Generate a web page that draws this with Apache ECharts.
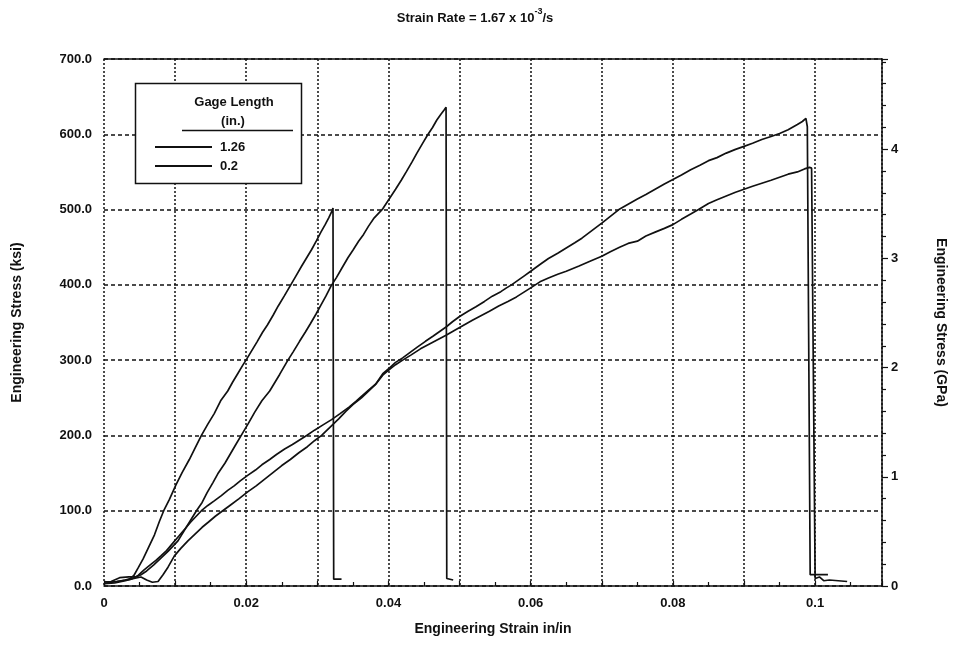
<!DOCTYPE html>
<html>
<head>
<meta charset="utf-8">
<script src="https://cdn.jsdelivr.net/npm/echarts@6/dist/echarts.min.js"></script>
<style>
  html, body { margin: 0; padding: 0; background: #fff; }
  #chart { width: 958px; height: 646px; }
</style>
</head>
<body>
<div id="chart"></div>
<script>
// Tensile tests at a strain rate of 1.67e-3 /s, two extensometer gage lengths.

// 0.2 in. gage, specimen 1
const strainA = [0, 0.0008, 0.0018, 0.0030, 0.0037, 0.0042, 0.0048, 0.0055, 0.0063, 0.0071, 0.0078, 0.0084, 0.0092, 0.0101, 0.0110, 0.0120, 0.0128, 0.0137, 0.0146, 0.0155, 0.0164, 0.0174, 0.0181, 0.0188, 0.0195, 0.0201, 0.0208, 0.0215, 0.0223, 0.0230, 0.0238, 0.0245, 0.0254, 0.0262, 0.0270, 0.0278, 0.0285, 0.0292, 0.0299, 0.0305, 0.0311, 0.0316, 0.0321, 0.0322, 0.0323, 0.0334];
const stressA = [3, 5, 6, 8, 10, 14, 24, 36, 52, 68, 86, 100, 115, 134, 151, 168, 183, 200, 215, 229, 246, 259, 271, 282, 293, 302, 313, 324, 337, 347, 360, 372, 386, 399, 412, 425, 436, 447, 459, 470, 480, 489, 499, 502, 9, 9];

// 0.2 in. gage, specimen 2
const strainB = [0, 0.0010, 0.0022, 0.0035, 0.0045, 0.0052, 0.0060, 0.0070, 0.0080, 0.0090, 0.0104, 0.0117, 0.0130, 0.0138, 0.0145, 0.0153, 0.0160, 0.0170, 0.0178, 0.0186, 0.0193, 0.0203, 0.0212, 0.0222, 0.0233, 0.0240, 0.0247, 0.0258, 0.0266, 0.0275, 0.0283, 0.0290, 0.0298, 0.0305, 0.0312, 0.0319, 0.0327, 0.0335, 0.0343, 0.0350, 0.0358, 0.0365, 0.0372, 0.0380, 0.0386, 0.0392, 0.0401, 0.0410, 0.0418, 0.0425, 0.0433, 0.0440, 0.0448, 0.0455, 0.0462, 0.0468, 0.0474, 0.0478, 0.0481, 0.0482, 0.0491];
const stressB = [5, 6, 11, 12, 12, 15, 20, 28, 37, 46, 60, 80, 100, 111, 124, 137, 149, 163, 176, 189, 200, 216, 231, 246, 259, 270, 281, 299, 311, 325, 337, 348, 361, 373, 385, 398, 410, 423, 436, 446, 458, 467, 478, 489, 495, 501, 514, 527, 539, 550, 563, 575, 588, 599, 609, 619, 627, 632, 636, 10, 8];

// 1.26 in. gage, specimen 1
const strainC = [0, 0.0012, 0.0025, 0.0038, 0.0048, 0.0056, 0.0065, 0.0073, 0.0080, 0.0088, 0.0095, 0.0105, 0.0114, 0.0122, 0.0130, 0.0137, 0.0146, 0.0155, 0.0165, 0.0174, 0.0183, 0.0192, 0.0202, 0.0213, 0.0222, 0.0233, 0.0243, 0.0254, 0.0265, 0.0275, 0.0285, 0.0296, 0.0308, 0.0320, 0.0332, 0.0345, 0.0355, 0.0362, 0.0372, 0.0382, 0.0392, 0.0402, 0.0410, 0.0420, 0.0430, 0.0440, 0.0452, 0.0463, 0.0472, 0.0481, 0.0490, 0.0500, 0.0512, 0.0523, 0.0535, 0.0546, 0.0558, 0.0566, 0.0573, 0.0582, 0.0591, 0.0600, 0.0613, 0.0625, 0.0638, 0.0650, 0.0662, 0.0672, 0.0686, 0.0700, 0.0712, 0.0724, 0.0737, 0.0750, 0.0762, 0.0775, 0.0788, 0.0800, 0.0812, 0.0825, 0.0838, 0.0850, 0.0862, 0.0875, 0.0888, 0.0900, 0.0912, 0.0925, 0.0938, 0.0950, 0.0962, 0.0975, 0.0982, 0.0987, 0.0989, 0.0993, 0.1018];
const stressC = [6, 5, 7, 9, 14, 21, 28, 34, 40, 47, 55, 66, 76, 85, 93, 100, 107, 113, 120, 127, 133, 140, 147, 154, 161, 168, 175, 182, 188, 194, 200, 207, 214, 221, 229, 238, 246, 252, 260, 268, 282, 290, 297, 303, 310, 317, 325, 332, 338, 344, 351, 358, 365, 371, 378, 385, 391, 396, 400, 406, 412, 418, 427, 435, 442, 449, 456, 462, 472, 482, 491, 500, 507, 514, 520, 527, 534, 540, 546, 553, 559, 565, 569, 575, 580, 584, 588, 593, 597, 601, 606, 613, 617, 621, 610, 15, 15];

// 1.26 in. gage, specimen 2
const strainD = [0, 0.0015, 0.0030, 0.0042, 0.0052, 0.0060, 0.0068, 0.0076, 0.0083, 0.0090, 0.0099, 0.0108, 0.0118, 0.0128, 0.0138, 0.0147, 0.0157, 0.0167, 0.0177, 0.0190, 0.0202, 0.0214, 0.0226, 0.0238, 0.0250, 0.0262, 0.0274, 0.0286, 0.0296, 0.0306, 0.0318, 0.0330, 0.0340, 0.0350, 0.0362, 0.0372, 0.0382, 0.0392, 0.0402, 0.0410, 0.0420, 0.0432, 0.0445, 0.0457, 0.0469, 0.0481, 0.0492, 0.0505, 0.0518, 0.0530, 0.0542, 0.0555, 0.0568, 0.0580, 0.0590, 0.0600, 0.0613, 0.0625, 0.0638, 0.0650, 0.0668, 0.0685, 0.0700, 0.0712, 0.0725, 0.0737, 0.0750, 0.0762, 0.0775, 0.0788, 0.0800, 0.0812, 0.0825, 0.0836, 0.0850, 0.0862, 0.0875, 0.0888, 0.0900, 0.0912, 0.0925, 0.0938, 0.0950, 0.0962, 0.0975, 0.0985, 0.0992, 0.0995, 0.1000, 0.1006, 0.1012, 0.1020, 0.1045];
const stressD = [3, 4, 7, 10, 12, 8, 5, 6, 15, 25, 40, 50, 60, 69, 78, 85, 93, 100, 107, 116, 125, 133, 142, 151, 160, 168, 177, 185, 193, 200, 211, 222, 232, 241, 250, 259, 268, 280, 288, 294, 300, 307, 315, 321, 327, 333, 339, 346, 353, 359, 365, 372, 378, 384, 390, 396, 404, 409, 414, 418, 425, 432, 438, 444, 450, 455, 458, 465, 470, 475, 480, 487, 494, 500, 508, 513, 518, 523, 527, 531, 535, 539, 543, 547, 550, 554, 556, 555, 10, 12, 7, 8, 6];

const gageLabels = ['1.26', '0.2'];
const ksiTicks = [0, 100, 200, 300, 400, 500, 600, 700];
const KSI_PER_GPA = 145.0377;

const pairs = (xs, ys) => xs.map((x, i) => [x, ys[i]]);

const FONT = '"Liberation Sans", Arial, sans-serif';
const INK = '#111';

const chart = echarts.init(document.getElementById('chart'), null, { renderer: 'canvas' });

function curve(name, xs, ys) {
  return {
    type: 'line',
    name: name,
    data: pairs(xs, ys),
    xAxisIndex: 0,
    yAxisIndex: 0,
    symbol: 'none',
    showSymbol: false,
    lineStyle: { color: INK, width: 1.7 },
    itemStyle: { color: INK },
    animation: false
  };
}

const xMax = 0.1094;
const yMax = ksiTicks[ksiTicks.length - 1];

chart.setOption({
  backgroundColor: '#fff',
  animation: false,
  title: {
    text: '{a|Strain Rate = 1.67 x 10}{s|-3}{a|/s}',
    left: 470,
    top: 2,
    textAlign: 'center',
    textStyle: {
      rich: {
        a: { fontFamily: FONT, fontWeight: 'bold', fontSize: 13, color: INK, lineHeight: 18, verticalAlign: 'bottom' },
        s: { fontFamily: FONT, fontWeight: 'bold', fontSize: 9, color: INK, lineHeight: 18, verticalAlign: 'top', padding: [0, 0, 6, 0] }
      }
    }
  },
  grid: { left: 104, right: 76, top: 59, bottom: 60, containLabel: false },
  legend: {
    data: gageLabels,
    orient: 'vertical',
    left: 155,
    top: 140,
    padding: 0,
    z: 120,
    itemWidth: 57,
    itemHeight: 2,
    itemGap: 5,
    icon: 'rect',
    selectedMode: false,
    textStyle: { fontFamily: FONT, fontWeight: 'bold', fontSize: 13, color: INK, lineHeight: 14, padding: [0, 0, 0, 3] }
  },
  xAxis: [
    {
      type: 'value',
      min: 0,
      max: xMax,
      interval: 0.01,
      name: 'Engineering Strain in/in',
      nameLocation: 'middle',
      nameGap: 36,
      nameTextStyle: { fontFamily: FONT, fontWeight: 'bold', fontSize: 14, color: INK },
      axisLine: { show: true, onZero: false, lineStyle: { color: INK, width: 1.5 } },
      axisTick: { show: true, inside: true, length: 5, lineStyle: { color: INK, width: 1.2 } },
      minorTick: { show: true, splitNumber: 2, length: 4, lineStyle: { color: INK, width: 1.2 } },
      axisLabel: {
        margin: 11,
        fontFamily: FONT, fontWeight: 'bold', fontSize: 13, color: INK,
        formatter: function (v) {
          const k = Math.round(v * 100);
          if (k % 2 !== 0 || Math.abs(v * 100 - k) > 1e-6) return '';
          return k === 0 ? '0' : String(k / 100);
        }
      },
      splitLine: { show: true, lineStyle: { color: INK, width: 1.5, type: [2, 2] } }
    },
    {
      type: 'value',
      position: 'top',
      min: 0,
      max: xMax,
      interval: 0.01,
      axisLine: { show: true, onZero: false, lineStyle: { color: INK, width: 1.5 } },
      axisTick: { show: false },
      axisLabel: { show: false },
      splitLine: { show: false }
    }
  ],
  yAxis: [
    {
      type: 'value',
      min: 0,
      max: yMax,
      interval: 100,
      name: 'Engineering Stress (ksi)',
      nameLocation: 'middle',
      nameGap: 80,
      nameRotate: 90,
      nameTextStyle: { fontFamily: FONT, fontWeight: 'bold', fontSize: 14, color: INK },
      axisLine: { show: false },
      axisTick: { show: false },
      axisLabel: {
        margin: 12,
        fontFamily: FONT, fontWeight: 'bold', fontSize: 13, color: INK,
        formatter: function (v) { return ksiTicks.indexOf(Math.round(v)) >= 0 ? v.toFixed(1) : ''; }
      },
      splitLine: { show: true, lineStyle: { color: INK, width: 1.5, type: [4, 3] } }
    },
    {
      type: 'value',
      position: 'right',
      min: 0,
      max: yMax / KSI_PER_GPA,
      interval: 1,
      name: 'Engineering Stress (GPa)',
      nameLocation: 'middle',
      nameGap: 52,
      nameRotate: -90,
      nameTextStyle: { fontFamily: FONT, fontWeight: 'bold', fontSize: 14, color: INK },
      axisLine: { show: true, onZero: false, lineStyle: { color: INK, width: 1.5 } },
      axisTick: { show: true, length: 6, lineStyle: { color: INK, width: 1.2 } },
      minorTick: { show: true, splitNumber: 5, length: 4, lineStyle: { color: INK, width: 1.2 } },
      axisLabel: {
        margin: 9,
        fontFamily: FONT, fontWeight: 'bold', fontSize: 13, color: INK,
        formatter: function (v) { return Math.abs(v - Math.round(v)) < 1e-6 ? String(Math.round(v)) : ''; }
      },
      splitLine: { show: false }
    }
  ],
  graphic: [
    {
      type: 'rect',
      z: 90,
      shape: { x: 135.5, y: 83.5, width: 166, height: 100 },
      style: { fill: '#fff', stroke: INK, lineWidth: 1.5 }
    },
    {
      type: 'text',
      z: 91,
      x: 234, y: 102,
      style: { text: 'Gage Length', fill: INK, font: 'bold 13px ' + FONT, textAlign: 'center', textVerticalAlign: 'middle' }
    },
    {
      type: 'text',
      z: 91,
      x: 233, y: 121,
      style: { text: '(in.)', fill: INK, font: 'bold 13px ' + FONT, textAlign: 'center', textVerticalAlign: 'middle' }
    },
    {
      type: 'line',
      z: 91,
      shape: { x1: 182, y1: 130.5, x2: 293, y2: 130.5 },
      style: { stroke: INK, lineWidth: 1.5 }
    }
  ],
  series: [
    curve(gageLabels[1], strainA, stressA),
    curve(gageLabels[1], strainB, stressB),
    curve(gageLabels[0], strainC, stressC),
    curve(gageLabels[0], strainD, stressD)
  ]
});
</script>
</body>
</html>
